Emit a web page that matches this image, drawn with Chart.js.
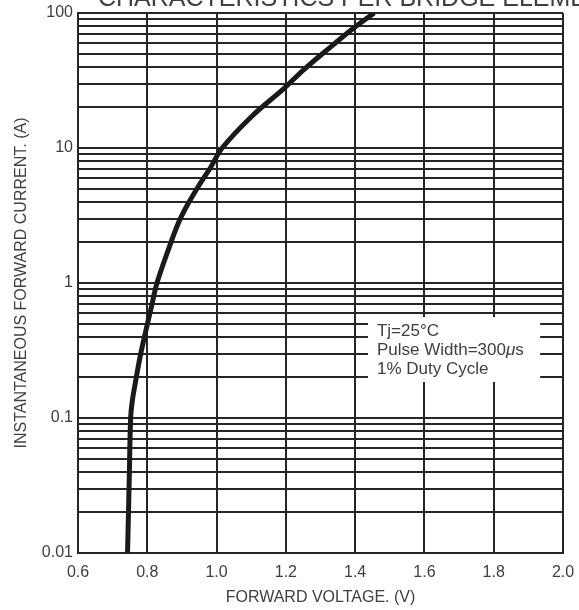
<!DOCTYPE html>
<html>
<head>
<meta charset="utf-8">
<title>Forward characteristics</title>
<script src="https://cdn.jsdelivr.net/npm/chart.js@4.4.1/dist/chart.umd.min.js"></script>
<style>
  html, body { margin: 0; padding: 0; background: #fff; }
  #wrap { width: 579px; height: 610px; }
</style>
</head>
<body>
<div id="wrap"><canvas id="vfChart" width="579" height="610"></canvas></div>
<script>
// values
const forwardVoltage = [0.743, 0.748, 0.752, 0.757, 0.766, 0.779, 0.796, 0.812, 0.828, 0.863, 0.890,
    0.912, 0.949, 0.984, 1.016, 1.102, 1.194, 1.252, 1.333, 1.394, 1.455];
const forwardCurrent = [0.01, 0.036, 0.1, 0.135, 0.185, 0.282, 0.445, 0.667, 1, 1.83, 2.79,
    3.64, 5.28, 7.27, 10, 17.2, 27.5, 38.1, 57.1, 76.8, 100];

const xTickValues = [0.6, 0.8, 1.0, 1.2, 1.4, 1.6, 1.8, 2.0];
const yGridValues = [
    0.01, 0.02, 0.03, 0.04, 0.05, 0.06, 0.07, 0.08, 0.09,
    0.1, 0.2, 0.3, 0.4, 0.5, 0.6, 0.7, 0.8, 0.9,
    1, 2, 3, 4, 5, 6, 7, 8, 9,
    10, 20, 30, 40, 50, 60, 70, 80, 90,
    100
];
const yLabelValues = [0.01, 0.1, 1, 10, 100];
const yLabelTexts = ['0.01', '0.1', '1', '10', '100'];

const chartTitle = 'CHARACTERISTICS PER BRIDGE ELEMENT';
const xTitle = 'FORWARD VOLTAGE. (V)';
const yTitle = 'INSTANTANEOUS FORWARD CURRENT. (A)';
// note lines, odd segments are italic
const noteLines = [['Tj=25°C'], ['Pulse Width=300', 'μ', 's'], ['1% Duty Cycle']];

const gridColor = '#262626';
const textColor = '#404040';
const fontFamily = '"Liberation Sans", Arial, sans-serif';

const points = forwardVoltage.map((v, i) => ({ x: v, y: forwardCurrent[i] }));

// title is cut off at the top edge in the scan
const clippedTitle = {
    id: 'clippedTitle',
    afterDraw(chart) {
        const ctx = chart.ctx;
        ctx.save();
        ctx.fillStyle = textColor;
        ctx.font = '25px ' + fontFamily;
        ctx.textAlign = 'left';
        ctx.textBaseline = 'alphabetic';
        ctx.fillText(chartTitle, 98, 6);
        ctx.restore();
    }
};

// white box with the test conditions
const noteBox = {
    id: 'noteBox',
    afterDatasetsDraw(chart) {
        const { ctx, scales: { x, y } } = chart;
        const left = x.getPixelForValue(1.437);
        const right = x.getPixelForValue(1.934);
        const top = y.getPixelForValue(0.56);
        const bottom = y.getPixelForValue(0.185);
        ctx.save();
        ctx.fillStyle = '#ffffff';
        ctx.fillRect(left, top, right - left, bottom - top);
        ctx.fillStyle = textColor;
        ctx.textBaseline = 'middle';
        noteLines.forEach((parts, row) => {
            let tx = left + 9;
            const ty = top + 14 + row * 19;
            parts.forEach((part, k) => {
                ctx.font = (k % 2 === 1 ? 'italic ' : '') + '17px ' + fontFamily;
                ctx.fillText(part, tx, ty);
                tx += ctx.measureText(part).width;
            });
        });
        ctx.restore();
    }
};

new Chart(document.getElementById('vfChart').getContext('2d'), {
    type: 'scatter',
    data: {
        datasets: [{
            data: points,
            showLine: true,
            borderColor: '#1a1a1a',
            borderWidth: 5,
            pointRadius: 0,
            tension: 0.35,
            fill: false
        }]
    },
    options: {
        responsive: false,
        animation: false,
        layout: { padding: { top: 13, right: 16, left: 0, bottom: 0 } },
        plugins: {
            legend: { display: false },
            title: { display: false },
            tooltip: { enabled: false }
        },
        scales: {
            x: {
                type: 'linear',
                min: 0.6,
                max: 2.0,
                afterBuildTicks: axis => { axis.ticks = xTickValues.map(v => ({ value: v })); },
                afterFit: axis => {
                    axis.height = 57;
                    axis.paddingLeft = 0;
                    axis.paddingRight = 0;
                },
                grid: { color: gridColor, lineWidth: 2, drawTicks: false },
                border: { color: gridColor, width: 2 },
                ticks: {
                    padding: 10,
                    color: textColor,
                    font: { family: fontFamily, size: 16 },
                    callback: v => v.toFixed(1)
                },
                title: {
                    display: true,
                    text: xTitle,
                    color: textColor,
                    font: { family: fontFamily, size: 16 },
                    padding: { top: 0, bottom: 3 }
                }
            },
            y: {
                type: 'logarithmic',
                min: 0.01,
                max: 100,
                afterBuildTicks: axis => { axis.ticks = yGridValues.map(v => ({ value: v })); },
                afterFit: axis => {
                    axis.width = 78;
                    axis.paddingTop = 0;
                    axis.paddingBottom = 0;
                },
                grid: { color: gridColor, lineWidth: 2, drawTicks: false },
                border: { color: gridColor, width: 2 },
                ticks: {
                    autoSkip: false,
                    padding: 5,
                    color: textColor,
                    font: { family: fontFamily, size: 16 },
                    callback: v => {
                        const i = yLabelValues.findIndex(l => Math.abs(l - v) < l * 1e-6);
                        return i >= 0 ? yLabelTexts[i] : '';
                    }
                },
                title: {
                    display: true,
                    text: yTitle,
                    color: textColor,
                    font: { family: fontFamily, size: 16 },
                    padding: { top: 12, bottom: 0 }
                }
            }
        }
    },
    plugins: [noteBox, clippedTitle]
});
</script>
</body>
</html>
